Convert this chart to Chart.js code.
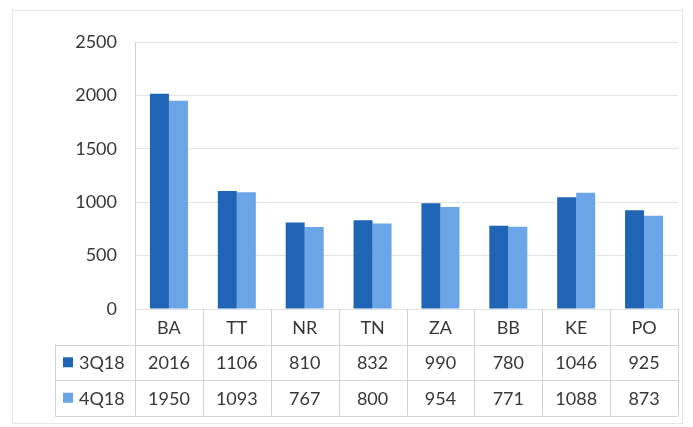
<!DOCTYPE html>
<html><head><meta charset="utf-8">
<script src="https://cdn.jsdelivr.net/npm/chart.js@4.4.1/dist/chart.umd.min.js"></script>
<style>html,body{margin:0;padding:0;background:#fff}#wrap{width:693px;height:427px;position:relative}</style>
</head><body><div id="wrap"><canvas id="c" width="693" height="427"></canvas></div>
<script>
const categories = ['BA','TT','NR','TN','ZA','BB','KE','PO'];
const seriesNames = ['3Q18','4Q18'];
const q3_18 = [2016,1106,810,832,990,780,1046,925];
const q4_18 = [1950,1093,767,800,954,771,1088,873];
const yTicks = [0,500,1000,1500,2000,2500];
const colors = ['#1f64b5','#6aa5e8'];
const FONT = 'Lato, "Open Sans", sans-serif';
const textColor = '#383838';
const lineColor = '#d4d4d4';

const tablePlugin = {
  id: 'tablePlugin',
  beforeDraw(chart) {
    const ctx = chart.ctx;
    ctx.save();
    ctx.strokeStyle = '#e6e6e6';
    ctx.lineWidth = 1;
    ctx.strokeRect(12.5, 10.5, 670, 413);
    ctx.restore();
  },
  afterDraw(chart) {
    const ctx = chart.ctx;
    const x = chart.scales.x;
    const area = chart.chartArea;
    const left = area.left, right = area.right, top0 = area.bottom;
    const rowH = 35.5;
    const legendLeft = 55;
    const rows = [q3_18, q4_18];
    ctx.save();
    ctx.strokeStyle = lineColor;
    ctx.lineWidth = 1;
    const n = categories.length;
    const step = (right - left) / n;
    ctx.beginPath();
    for (let i = 0; i <= n; i++) {
      const xx = Math.round(left + i * step) + 0.5;
      ctx.moveTo(xx, top0); ctx.lineTo(xx, top0 + rowH * 3);
    }
    ctx.moveTo(legendLeft + 0.5, top0 + rowH); ctx.lineTo(legendLeft + 0.5, top0 + rowH * 3);
    for (let r = 1; r <= 3; r++) {
      const yy = Math.round(top0 + rowH * r) + 0.5;
      ctx.moveTo(legendLeft, yy); ctx.lineTo(right, yy);
    }
    ctx.stroke();
    ctx.fillStyle = textColor;
    ctx.font = '18px ' + FONT;
    ctx.textAlign = 'center';
    ctx.textBaseline = 'middle';
    categories.forEach((c, i) => {
      const cx = x.getPixelForValue(i);
      ctx.fillText(c, cx, top0 + rowH * 0.5 + 1);
      rows.forEach((arr, r) => {
        ctx.fillText(String(arr[i]), cx, top0 + rowH * (r + 1.5) + 1);
      });
    });
    ctx.textAlign = 'left';
    seriesNames.forEach((s, r) => {
      const cy = top0 + rowH * (r + 1.5);
      ctx.fillStyle = colors[r];
      ctx.fillRect(63, cy - 5, 10, 10);
      ctx.fillStyle = textColor;
      ctx.fillText(s, 79, cy + 1);
    });
    ctx.restore();
  }
};

new Chart(document.getElementById('c'), {
  type: 'bar',
  data: {
    labels: categories,
    datasets: [
      { label: seriesNames[0], data: q3_18, backgroundColor: colors[0], borderWidth: 0 },
      { label: seriesNames[1], data: q4_18, backgroundColor: colors[1], borderWidth: 0 }
    ]
  },
  options: {
    responsive: false,
    animation: false,
    events: [],
    layout: { padding: { left: 55, top: 42, right: 15, bottom: 118 } },
    plugins: { legend: { display: false }, tooltip: { enabled: false } },
    datasets: { bar: { categoryPercentage: 0.56, barPercentage: 1.0 } },
    scales: {
      x: { display: false },
      y: {
        min: 0, max: 2500,
        afterBuildTicks(scale) { scale.ticks = yTicks.map(v => ({ value: v })); },
        afterFit(scale) { scale.width = 80; },
        grid: { color: '#e4e4e4', drawTicks: false },
        border: { display: true, color: '#d0d0d0' },
        ticks: { padding: 18, color: textColor, font: { family: FONT, size: 18 },
                 callback: (v) => String(v) }
      }
    }
  },
  plugins: [tablePlugin]
});
</script>
</body></html>
